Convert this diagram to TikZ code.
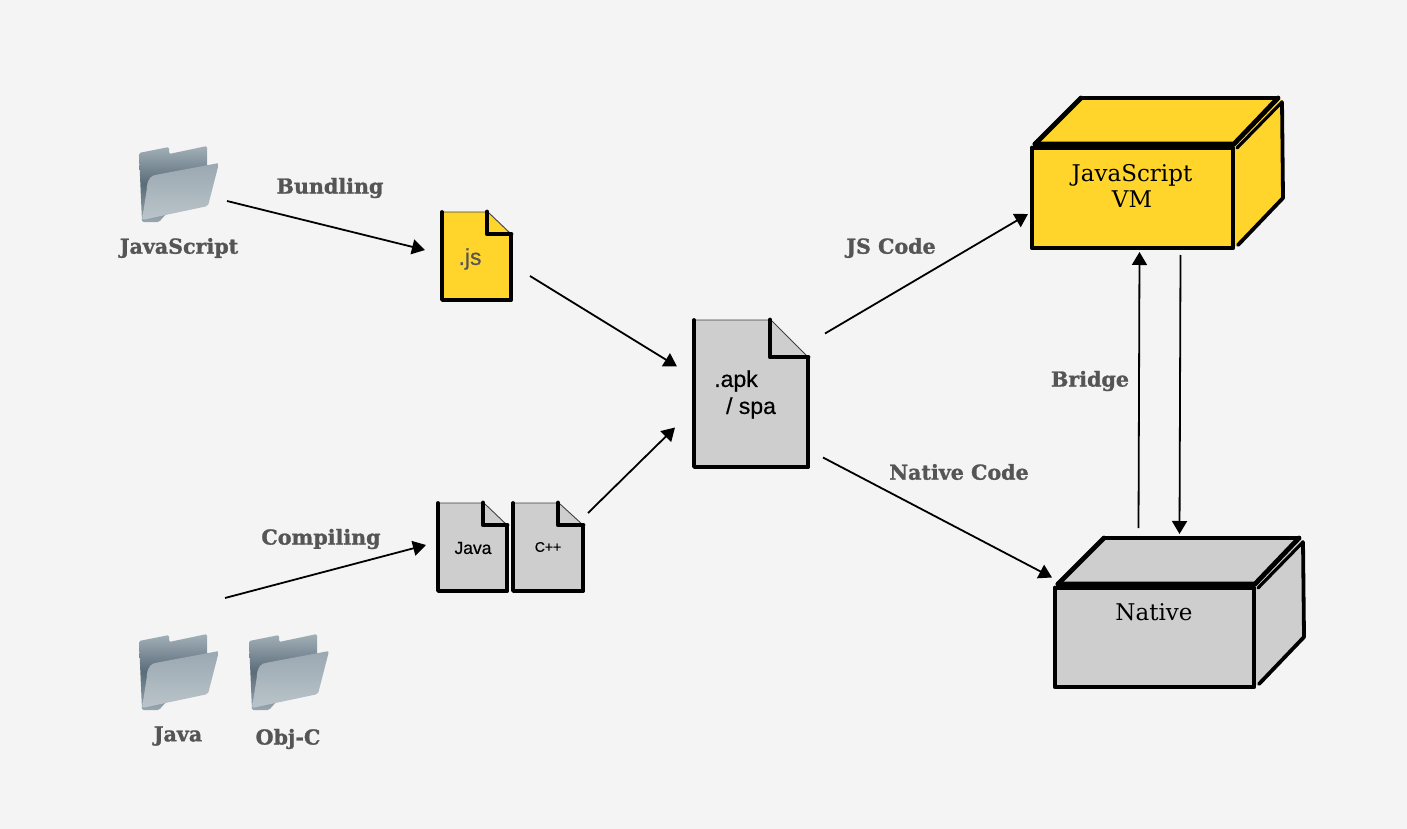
\documentclass[tikz,border=0pt]{standalone}
\usepackage{xcolor}
\usepackage{fontspec}
\setmainfont{Liberation Sans}
\newfontfamily\filefont{Liberation Sans}[FakeBold=0.5]
\newfontfamily\slabfont{DejaVu Serif}[BoldFeatures={FakeBold=1.2}]
\newfontfamily\boxfont{DejaVu Serif}
\definecolor{paper}{HTML}{F4F4F4}
\definecolor{muted}{HTML}{555555}
\definecolor{boxyellow}{HTML}{FFD52B}
\definecolor{boxgray}{HTML}{CECECE}
\definecolor{foldertop}{HTML}{A3B0B8}
\definecolor{folderdark}{HTML}{5A6C79}
\definecolor{folderfoot}{HTML}{98A6AF}
\definecolor{flapback}{HTML}{9AA8B1}
\definecolor{flapfront}{HTML}{BAC4CA}
\usepackage{tikz}
\usetikzlibrary{arrows.meta, positioning, calc}

\begin{document}
\begin{tikzpicture}[
  x=1pt, y=-1pt,
  slot/.style={inner sep=0pt, outer sep=0pt, draw=none},
  heavy/.style={draw=black, line width=3.8pt, line cap=round, line join=round},
  heavier/.style={draw=black, line width=4.8pt, line cap=round, line join=round},
  medium/.style={draw=black, line width=3.2pt, line cap=round, line join=round},
  hair/.style={draw=black!75, line width=0.9pt},
  conn/.style={-{Triangle[length=13pt,width=15pt]}, black, line width=1.8pt},
  steplabel/.style={font=\slabfont\bfseries\fontsize{20.6}{24}\selectfont, text=muted},
  filelabel/.style={font=\filefont\fontsize{#1}{#1}\selectfont},
  boxlabel/.style={font=\boxfont\fontsize{23}{26}\selectfont, align=center}
]
  \fill[paper] (0,0) rectangle (1407,829);
  \useasboundingbox (0,0) rectangle (1407,829);

  % folders
  \foreach \n/\x/\y in {jsfolder/139/146, javafolder/139/634, objcfolder/249/634} {
    \begin{scope}[shift={(\x,\y)}]
      \shade[top color=foldertop, bottom color=folderfoot, middle color=folderdark, rounded corners=1.5pt]
        (0,7) -- (30,1) -- (30,8) -- (68,0) -- (68,22) -- (20,76) -- (3,76) -- cycle;
      \shade[top color=flapback, bottom color=flapfront, rounded corners=2pt]
        (80,17) -- (16,29) .. controls (10,31) and (8,38) .. (8,42) -- (3,74) -- (69,60) -- cycle;
    \end{scope}
    \node[slot, minimum width=80pt, minimum height=76pt] (\n) at (\x+40,\y+38) {};
  }

  % files
  \foreach \n/\l/\t/\r/\b/\fx/\fy/\c in {
    jsdoc/442/212/511/300/487/234/boxyellow,
    apkdoc/694/320/808/467/770/357/boxgray,
    javadoc/438/503/507/591/483/525/boxgray,
    cppdoc/513/503/583/591/558/525/boxgray} {
    \fill[\c] (\l,\t) -- (\fx,\t) -- (\r,\fy) -- (\r,\b) -- (\l,\b) -- cycle;
    \draw[hair] (\l,\t) -- (\fx,\t) (\fx+2,\t+1) -- (\r,\fy);
    \draw[heavy] (\l,\t) -- (\l,\b) -- (\r,\b);
    \draw[medium] (\r,\b) -- (\r,\fy);
    \draw[heavier] (\fx,\t) -- (\fx,\fy) -- (\r,\fy);
    \node[slot, minimum width={(\r-\l)*1pt}, minimum height={(\b-\t)*1pt}] (\n) at ({(\l+\r)/2},{(\t+\b)/2}) {};
  }

  % boxes
  \foreach \n/\l/\t/\r/\b/\c in {vmbox/1032/148/1233/248/boxyellow, nativebox/1055/588/1254/687/boxgray} {
    \fill[\c] (\l,\t) -- (\l+49,\t-50) -- (\r+46,\t-50) -- (\r+50,\t-46) -- (\r+50,\b-50) -- (\r+4,\b-3) -- (\r,\b) -- (\l,\b) -- cycle;
    \draw[heavier] (\l,\t) -- (\l,\b) -- (\r,\b) -- (\r,\t);
    \draw[medium] (\l,\t) -- (\r,\t);
    \draw[heavier] (\l+3,\t-4) -- (\l+49,\t-50);
    \draw[heavy] (\l+49,\t-50) -- (\r+45,\t-50);
    \draw[heavier] (\r+45,\t-50) -- (\r+1,\t-4) -- (\l+3,\t-4);
    \draw[heavy] (\r+49,\t-46) -- (\r+50,\b-50) -- (\r+5,\b-3);
    \draw[medium] (\r+4,\t) -- (\r+49,\t-46);
    \node[slot, minimum width={(\r-\l+50)*1pt}, minimum height={(\b-\t+50)*1pt}] (\n) at ({(\l+\r+50)/2},{(\t+\b-50)/2}) {};
  }

  % texts
  \foreach \n/\x/\y/\lab in {jsname/179/248/JavaScript, bundlename/330/188/Bundling, compilename/321/539/Compiling,
    javaname/178/736/Java, objcname/288/739/Obj-C, jscodename/891/248/JS Code,
    bridgename/1090/381/Bridge, nativecodename/959/472/Native Code} {
    \node[steplabel] (\n) at (\x,\y) {\lab};
  }
  \node[filelabel=23, text=muted] (jstext) at (470,259) {.js};
  \node[filelabel=23] (apktext) at (736,381) {.apk};
  \node[filelabel=23] (spatext) at (751,408) {/ spa};
  \node[filelabel=17.5] (javatext) at (473,548) {Java};
  \node[filelabel=14] (cpptext) at (548,547) {C++};
  \node[boxlabel] (vmtext) at (1132,186) {JavaScript\\VM};
  \node[boxlabel] (nativetext) at (1154,612) {Native};

  \coordinate (javastart) at (225,598);

  \draw[conn] ([shift={(8,17)}]jsfolder.east) -- ([shift={(-17,-6)}]jsdoc.west);
  \draw[conn] ([shift={(19,20)}]jsdoc.east) -- ([shift={(-17,-27)}]apkdoc.west);
  \draw[conn] (javastart) -- ([shift={(-12,-2)}]javadoc.west);
  \draw[conn] ([shift={(5,-34)}]cppdoc.east) -- ([shift={(-19,34)}]apkdoc.west);
  \draw[conn] ([shift={(17,-60)}]apkdoc.east) -- ([shift={(-4,41)}]vmbox.west);
  \draw[conn] ([shift={(15,64)}]apkdoc.east) -- ([shift={(-3,-35)}]nativebox.west);
  \draw[conn] ([shift={(-41,-10)}]nativebox.north) -- ([shift={(-18,4)}]vmbox.south);
  \draw[conn] ([shift={(23,7)}]vmbox.south) -- ([shift={(0,-4)}]nativebox.north);
\end{tikzpicture}
\end{document}
